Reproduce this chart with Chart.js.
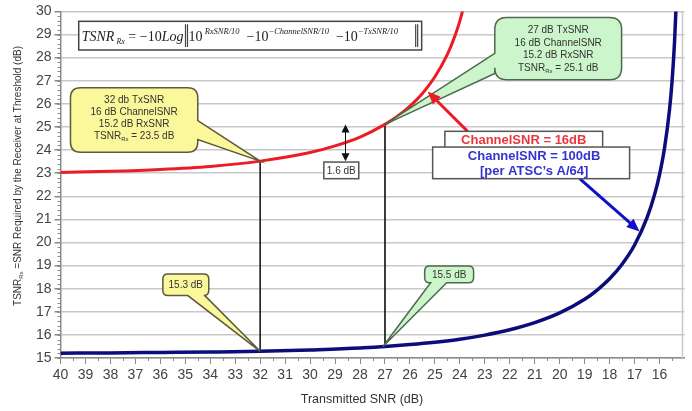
<!DOCTYPE html>
<html>
<head>
<meta charset="utf-8">
<script src="https://cdn.jsdelivr.net/npm/chart.js@4.4.1/dist/chart.umd.min.js"></script>
<style>
  html, body { margin: 0; padding: 0; background: #fff; }
  #wrap { width: 692px; height: 411px; }
</style>
</head>
<body>
<div id="wrap"><canvas id="chart"></canvas></div>
<script>
// Transmitted SNR (dB) vs TSNR_Rx
const txRed = [40, 38, 36, 34, 32, 30, 29, 28, 27, 26.5, 26, 25.5, 25, 24.5, 24.2, 24, 23.8];
const tsnrRed = [23.03, 23.08, 23.16, 23.29, 23.52, 23.89, 24.18, 24.56, 25.11, 25.46, 25.9, 26.45, 27.17, 28.14, 28.93, 29.59, 30.4];
const txBlue = [40, 38, 36, 34, 32, 30, 28, 27, 26, 25, 24, 23, 22, 21, 20, 19, 18.5, 18, 17.5, 17, 16.5, 16.2, 16, 15.8, 15.6, 15.5, 15.4, 15.35, 15.3];
const tsnrBlue = [15.21, 15.22, 15.24, 15.26, 15.29, 15.35, 15.43, 15.5, 15.58, 15.68, 15.81, 15.99, 16.22, 16.53, 16.95, 17.54, 17.94, 18.43, 19.06, 19.89, 21.07, 22.07, 22.94, 24.09, 25.75, 26.95, 28.66, 29.89, 31.62];

// the two marked operating points (TxSNR 32 and 27)
const markTx = [32, 27];
const markRed = [23.52, 25.11];
const markBlue = [15.29, 15.5];

const xLabels = [40, 39, 38, 37, 36, 35, 34, 33, 32, 31, 30, 29, 28, 27, 26, 25, 24, 23, 22, 21, 20, 19, 18, 17, 16];
const yLabels = [15, 16, 17, 18, 19, 20, 21, 22, 23, 24, 25, 26, 27, 28, 29, 30];

const RED = "#ec1c24";
const BLUE = "#0c0c7c";
const SANS = "'Liberation Sans', Arial, sans-serif";
const SERIF = "'Liberation Serif', 'Times New Roman', serif";

const toPts = (xs, ys) => xs.map((x, i) => ({ x: x, y: ys[i] }));

// draw a run of text pieces, some of them subscript / superscript; returns the width
function richText(ctx, parts, x, y, align) {
    let w = 0;
    parts.forEach(p => { ctx.font = p.font; w += ctx.measureText(p.t).width; });
    let cx = align === "center" ? x - w / 2 : x;
    parts.forEach(p => {
        ctx.font = p.font;
        ctx.fillText(p.t, cx, y + (p.dy || 0));
        cx += ctx.measureText(p.t).width;
    });
    return w;
}

// rounded box with a pointer (speech bubble)
function bubble(ctx, b, fill, stroke) {
    const { x1, y1, x2, y2, r, side, a, c, tip } = b;
    ctx.beginPath();
    ctx.moveTo(x1 + r, y1);
    ctx.lineTo(x2 - r, y1);
    ctx.quadraticCurveTo(x2, y1, x2, y1 + r);
    if (side === "right") {
        ctx.lineTo(x2, a); ctx.lineTo(tip.x, tip.y); ctx.lineTo(x2, c);
    }
    ctx.lineTo(x2, y2 - r);
    ctx.quadraticCurveTo(x2, y2, x2 - r, y2);
    if (side === "bottom") {
        ctx.lineTo(c, y2); ctx.lineTo(tip.x, tip.y); ctx.lineTo(a, y2);
    }
    ctx.lineTo(x1 + r, y2);
    ctx.quadraticCurveTo(x1, y2, x1, y2 - r);
    if (side === "left") {
        ctx.lineTo(x1, c); ctx.lineTo(tip.x, tip.y); ctx.lineTo(x1, a);
    }
    ctx.lineTo(x1, y1 + r);
    ctx.quadraticCurveTo(x1, y1, x1 + r, y1);
    ctx.closePath();
    ctx.fillStyle = fill;
    ctx.fill();
    ctx.lineWidth = 1.5;
    ctx.strokeStyle = stroke;
    ctx.stroke();
}

function arrow(ctx, x0, y0, x1, y1, color, width, head) {
    const ang = Math.atan2(y1 - y0, x1 - x0);
    ctx.strokeStyle = color;
    ctx.fillStyle = color;
    ctx.lineWidth = width;
    ctx.beginPath();
    ctx.moveTo(x0, y0);
    ctx.lineTo(x1 - Math.cos(ang) * head * 0.8, y1 - Math.sin(ang) * head * 0.8);
    ctx.stroke();
    ctx.beginPath();
    ctx.moveTo(x1, y1);
    ctx.lineTo(x1 - head * Math.cos(ang - 0.4), y1 - head * Math.sin(ang - 0.4));
    ctx.lineTo(x1 - head * Math.cos(ang + 0.4), y1 - head * Math.sin(ang + 0.4));
    ctx.closePath();
    ctx.fill();
}

const notes = {
    id: "notes",
    beforeDatasetsDraw(chart) {
        const ctx = chart.ctx;
        const a = chart.chartArea;
        const xs = chart.scales.x, ys = chart.scales.y;
        ctx.save();
        // minor ticks on both axes
        ctx.strokeStyle = "#8a8a8a";
        ctx.lineWidth = 1;
        ctx.beginPath();
        for (let v = 15.5; v < 40; v += 1) {
            const px = Math.round(xs.getPixelForValue(v)) + 0.5;
            ctx.moveTo(px, a.bottom); ctx.lineTo(px, a.bottom + 3);
        }
        for (let v = 15; v < 30; v += 0.2) {
            const py = Math.round(ys.getPixelForValue(v)) + 0.5;
            ctx.moveTo(a.left, py); ctx.lineTo(a.left - 3, py);
        }
        ctx.stroke();
        // right frame edge
        ctx.strokeStyle = "#c8c8c8";
        ctx.lineWidth = 1.5;
        ctx.beginPath();
        ctx.moveTo(a.right - 2, a.top); ctx.lineTo(a.right - 2, a.bottom);
        ctx.stroke();
        ctx.restore();
    },
    afterDatasetsDraw(chart) {
        const ctx = chart.ctx;
        const a = chart.chartArea;
        const X = v => chart.scales.x.getPixelForValue(v);
        const Y = v => chart.scales.y.getPixelForValue(v);
        ctx.save();
        ctx.textBaseline = "alphabetic";

        // formula box
        const fx1 = X(39.27), fx2 = X(25.53), fy1 = Y(29.57), fy2 = Y(28.33);
        ctx.fillStyle = "#fff";
        ctx.fillRect(fx1, fy1, fx2 - fx1, fy2 - fy1);
        ctx.strokeStyle = "#444";
        ctx.lineWidth = 1.5;
        ctx.strokeRect(fx1, fy1, fx2 - fx1, fy2 - fy1);
        ctx.fillStyle = "#222";
        const base = fy2 - 9;
        const it = "italic 14px " + SERIF, itS = "italic 8px " + SERIF, up = "14px " + SERIF, sup = "italic 8.5px " + SERIF;
        const w1 = richText(ctx, [
            { t: "TSNR", font: it }, { t: " Rx", font: itS, dy: 3 },
            { t: " = \u221210", font: up }, { t: "Log", font: it }
        ], fx1 + 3, base, "left");
        const bx = Math.round(fx1 + 3 + w1 + 2) + 0.5;
        ctx.lineWidth = 1.2;
        ctx.beginPath();
        ctx.moveTo(bx, fy1 + 3); ctx.lineTo(bx, fy2 - 3);
        ctx.moveTo(bx + 2, fy1 + 3); ctx.lineTo(bx + 2, fy2 - 3);
        ctx.moveTo(fx2 - 6, fy1 + 3); ctx.lineTo(fx2 - 6, fy2 - 3);
        ctx.moveTo(fx2 - 4, fy1 + 3); ctx.lineTo(fx2 - 4, fy2 - 3);
        ctx.stroke();
        richText(ctx, [
            { t: "10", font: up }, { t: " RxSNR/10", font: sup, dy: -7 },
            { t: "  \u221210", font: up }, { t: "\u2212ChannelSNR/10", font: sup, dy: -7 },
            { t: "  \u221210", font: up }, { t: "\u2212TxSNR/10", font: sup, dy: -7 }
        ], bx + 3, base, "left");

        // big yellow callout (TxSNR 32)
        const small = "10px " + SANS, tiny = "6px " + SANS;
        let t = { x: X(markTx[0]), y: Y(markRed[0]) };
        let b = { x1: X(39.6), y1: Y(26.7), x2: X(34.5), y2: Y(23.9), r: 10 };
        bubble(ctx, Object.assign(b, { side: "right", a: b.y1 + 33, c: b.y1 + 52, tip: t }), "#fbf79b", "#5c5a3c");
        ctx.fillStyle = "#333";
        let cx = (b.x1 + b.x2) / 2, ty = b.y1 + 15;
        richText(ctx, [{ t: "32 db TxSNR", font: small }], cx, ty, "center");
        richText(ctx, [{ t: "16 dB ChannelSNR", font: small }], cx, ty + 12, "center");
        richText(ctx, [{ t: "15.2 dB RxSNR", font: small }], cx, ty + 24, "center");
        richText(ctx, [{ t: "TSNR", font: small }, { t: "Rx", font: tiny, dy: 2 }, { t: " = 23.5 dB", font: small }], cx, ty + 36, "center");

        // big green callout (TxSNR 27)
        t = { x: X(markTx[1]), y: Y(markRed[1]) };
        b = { x1: X(22.6), y1: Y(29.74), x2: X(17.52), y2: Y(27.04), r: 12 };
        bubble(ctx, Object.assign(b, { side: "left", a: b.y1 + 36, c: b.y1 + 56, tip: t }), "#ccf5cc", "#4c6a4c");
        ctx.fillStyle = "#333";
        cx = (b.x1 + b.x2) / 2; ty = b.y1 + 16;
        richText(ctx, [{ t: "27 dB TxSNR", font: small }], cx, ty, "center");
        richText(ctx, [{ t: "16 dB ChannelSNR", font: small }], cx, ty + 12.5, "center");
        richText(ctx, [{ t: "15.2 dB RxSNR", font: small }], cx, ty + 25, "center");
        richText(ctx, [{ t: "TSNR", font: small }, { t: "Rx", font: tiny, dy: 2 }, { t: " = 25.1 dB", font: small }], cx, ty + 37.5, "center");

        // small yellow callout (15.3 dB)
        t = { x: X(markTx[0]), y: Y(markBlue[0]) };
        b = { x1: X(35.9), y1: Y(18.64), x2: X(34.06), y2: Y(17.7), r: 5 };
        bubble(ctx, Object.assign(b, { side: "bottom", a: b.x1 + 25, c: b.x1 + 42, tip: t }), "#fbf79b", "#5c5a3c");
        ctx.fillStyle = "#333";
        richText(ctx, [{ t: "15.3 dB", font: small }], (b.x1 + b.x2) / 2, b.y1 + 14, "center");

        // small green callout (15.5 dB)
        t = { x: X(markTx[1]) - 2, y: Y(markBlue[1]) };
        b = { x1: X(25.41), y1: Y(18.98), x2: X(23.45), y2: Y(18.26), r: 5 };
        bubble(ctx, Object.assign(b, { side: "bottom", a: b.x1 + 6, c: b.x1 + 22, tip: t }), "#ccf5cc", "#4c6a4c");
        ctx.fillStyle = "#333";
        richText(ctx, [{ t: "15.5 dB", font: small }], (b.x1 + b.x2) / 2, b.y1 + 12, "center");

        // 1.6 dB gap marker
        const gx = Math.round(X(28.6)) + 0.5;
        ctx.strokeStyle = "#111";
        ctx.lineWidth = 1;
        ctx.beginPath();
        ctx.moveTo(gx, Y(markRed[1]) + 6); ctx.lineTo(gx, Y(markRed[0]) - 6);
        ctx.stroke();
        ctx.fillStyle = "#111";
        ctx.beginPath();
        ctx.moveTo(gx, Y(markRed[1])); ctx.lineTo(gx - 4, Y(markRed[1]) + 8); ctx.lineTo(gx + 4, Y(markRed[1]) + 8); ctx.closePath();
        ctx.moveTo(gx, Y(markRed[0])); ctx.lineTo(gx - 4, Y(markRed[0]) - 8); ctx.lineTo(gx + 4, Y(markRed[0]) - 8); ctx.closePath();
        ctx.fill();
        const gb = { x1: X(29.45), y1: Y(23.48), x2: X(28.05), y2: Y(22.76) };
        ctx.fillStyle = "#fff";
        ctx.fillRect(gb.x1, gb.y1, gb.x2 - gb.x1, gb.y2 - gb.y1);
        ctx.strokeStyle = "#555";
        ctx.lineWidth = 1.5;
        ctx.strokeRect(gb.x1, gb.y1, gb.x2 - gb.x1, gb.y2 - gb.y1);
        ctx.fillStyle = "#333";
        richText(ctx, [{ t: "1.6 dB", font: small }], (gb.x1 + gb.x2) / 2, gb.y1 + 12, "center");

        // series labels
        const rb = { x1: X(24.6), y1: Y(24.81), x2: X(18.28), y2: Y(24.08) };
        const bb = { x1: X(25.09), y1: Y(24.13), x2: X(17.2), y2: Y(22.76) };
        arrow(ctx, X(23.69), Y(24.81), X(25.29), Y(26.53), RED, 3, 14);
        arrow(ctx, X(19.2), Y(22.76), X(16.8), Y(20.48), "#1010c8", 3, 14);
        ctx.fillStyle = "#fff";
        ctx.strokeStyle = "#555";
        ctx.lineWidth = 1.5;
        ctx.fillRect(rb.x1, rb.y1, rb.x2 - rb.x1, rb.y2 - rb.y1);
        ctx.strokeRect(rb.x1, rb.y1, rb.x2 - rb.x1, rb.y2 - rb.y1);
        ctx.fillRect(bb.x1, bb.y1, bb.x2 - bb.x1, bb.y2 - bb.y1);
        ctx.strokeRect(bb.x1, bb.y1, bb.x2 - bb.x1, bb.y2 - bb.y1);
        const bold = "bold 13px " + SANS;
        ctx.fillStyle = "#e8383d";
        richText(ctx, [{ t: "ChannelSNR = 16dB", font: bold }], (rb.x1 + rb.x2) / 2, rb.y1 + 13, "center");
        ctx.fillStyle = "#3434d0";
        richText(ctx, [{ t: "ChannelSNR = 100dB", font: bold }], (bb.x1 + bb.x2) / 2 + 3, bb.y1 + 13, "center");
        richText(ctx, [{ t: "[per ATSC\u2019s A/64]", font: bold }], (bb.x1 + bb.x2) / 2 + 3, bb.y1 + 28, "center");

        // axis titles
        ctx.fillStyle = "#333";
        richText(ctx, [{ t: "Transmitted SNR (dB)", font: "12.5px " + SANS }], 362, 403, "center");
        ctx.translate(21, 176);
        ctx.rotate(-Math.PI / 2);
        richText(ctx, [
            { t: "TSNR", font: "10px " + SANS }, { t: "Rx", font: "6px " + SANS, dy: 2 },
            { t: " =SNR Required by the Receiver at Threshold (dB)", font: "10px " + SANS }
        ], 0, 0, "center");
        ctx.restore();
    }
};

new Chart(document.getElementById("chart"), {
    type: "line",
    data: {
        datasets: [
            {
                label: "ChannelSNR = 16dB",
                data: toPts(txRed, tsnrRed),
                borderColor: RED,
                borderWidth: 3,
                pointRadius: 0,
                cubicInterpolationMode: "monotone"
            },
            {
                label: "ChannelSNR = 100dB",
                data: toPts(txBlue, tsnrBlue),
                borderColor: BLUE,
                borderWidth: 3.5,
                pointRadius: 0,
                cubicInterpolationMode: "monotone"
            },
            {
                label: "TxSNR 32",
                data: [{ x: markTx[0], y: markRed[0] }, { x: markTx[0], y: markBlue[0] }],
                borderColor: "#222",
                borderWidth: 1,
                pointRadius: 0
            },
            {
                label: "TxSNR 27",
                data: [{ x: markTx[1], y: markRed[1] }, { x: markTx[1], y: markBlue[1] }],
                borderColor: "#222",
                borderWidth: 1,
                pointRadius: 0
            }
        ]
    },
    options: {
        responsive: true,
        maintainAspectRatio: false,
        animation: false,
        layout: { padding: { top: 8, right: 7.5, left: 0, bottom: 0 } },
        plugins: { legend: { display: false }, tooltip: { enabled: false } },
        scales: {
            x: {
                type: "linear",
                reverse: true,
                min: 15,
                max: 40,
                afterBuildTicks: s => { s.ticks = xLabels.map(v => ({ value: v })); },
                afterFit: s => { s.height = 53; },
                ticks: { color: "#444", font: { family: SANS, size: 14 }, padding: 3, maxRotation: 0, autoSkip: false },
                grid: { display: true, drawOnChartArea: false, color: "#8a8a8a", tickLength: 6 },
                border: { color: "#8a8a8a", width: 1.5 }
            },
            y: {
                min: 15,
                max: 30,
                afterBuildTicks: s => { s.ticks = yLabels.map(v => ({ value: v })); },
                afterFit: s => { s.width = 60.5; },
                ticks: { color: "#444", font: { family: SANS, size: 14 }, padding: 3 },
                grid: { color: "#c8c8c8", lineWidth: 1.5, tickColor: "#8a8a8a", tickLength: 6 },
                border: { color: "#8a8a8a", width: 1.5 }
            }
        }
    },
    plugins: [notes]
});
</script>
</body>
</html>
